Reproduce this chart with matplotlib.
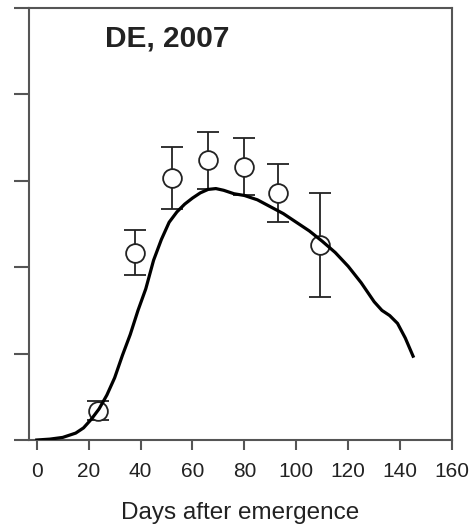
import matplotlib
matplotlib.use("Agg")
import matplotlib.pyplot as plt

plt.rcParams["font.family"] = ["Liberation Sans", "DejaVu Sans"]

# simulated curve
curve_days = [0, 5, 10, 15, 18, 21, 24, 27, 30, 33, 36, 39, 42, 45, 48, 51, 54, 57,
              60, 63, 66, 69, 72, 76, 80, 85, 90, 95, 100, 105, 110, 115, 120, 125,
              130, 133, 136, 139, 142, 145]
curve_vals = [0.0, 0.01, 0.03, 0.08, 0.14, 0.24, 0.36, 0.52, 0.72, 0.98, 1.22, 1.5,
              1.75, 2.08, 2.32, 2.52, 2.64, 2.73, 2.8, 2.86, 2.9, 2.91, 2.89, 2.85,
              2.83, 2.78, 2.7, 2.62, 2.52, 2.42, 2.3, 2.17, 2.01, 1.82, 1.6, 1.5,
              1.44, 1.35, 1.18, 0.97]

# observed points with error bars
obs_days = [23.5, 38, 52, 66, 80, 93, 109]
obs_vals = [0.34, 2.17, 3.03, 3.24, 3.16, 2.86, 2.26]
obs_err = [0.11, 0.26, 0.36, 0.33, 0.33, 0.34, 0.6]

xticks = [0, 20, 40, 60, 80, 100, 120, 140, 160]

fig = plt.figure(figsize=(4.74, 5.25), dpi=100)
ax = fig.add_axes([0.0612, 0.1619, 0.8924, 0.8229])

ax.errorbar(obs_days, obs_vals, yerr=obs_err, fmt="o", ms=13.5, mfc="white",
            mec="#222", mew=1.3, ecolor="#222", elinewidth=1.3, capsize=8,
            capthick=1.3, color="black", zorder=2)
ax.plot(curve_days, curve_vals, color="black", lw=2.3, zorder=3)

ax.set_xlim(-3, 160)
ax.set_ylim(0, 5)
ax.set_xticks(xticks)
ax.set_yticks([0, 1, 2, 3, 4, 5])
ax.set_yticklabels([])
ax.tick_params(axis="x", direction="out", length=7, width=1.5, color="#555",
               labelsize=15, pad=9, labelcolor="#222")
ax.tick_params(axis="y", direction="out", length=11, width=1.5, color="#555")
for s in ax.spines.values():
    s.set_color("#555")
    s.set_linewidth(1.5)

ax.text(0.18, 0.93, "DE, 2007", transform=ax.transAxes, fontsize=21.5,
        fontweight="bold", color="#222", va="center", ha="left")
ax.set_xlabel("Days after emergence", fontsize=17.5, labelpad=15, color="#222")

fig.savefig("out.png", dpi=100)
